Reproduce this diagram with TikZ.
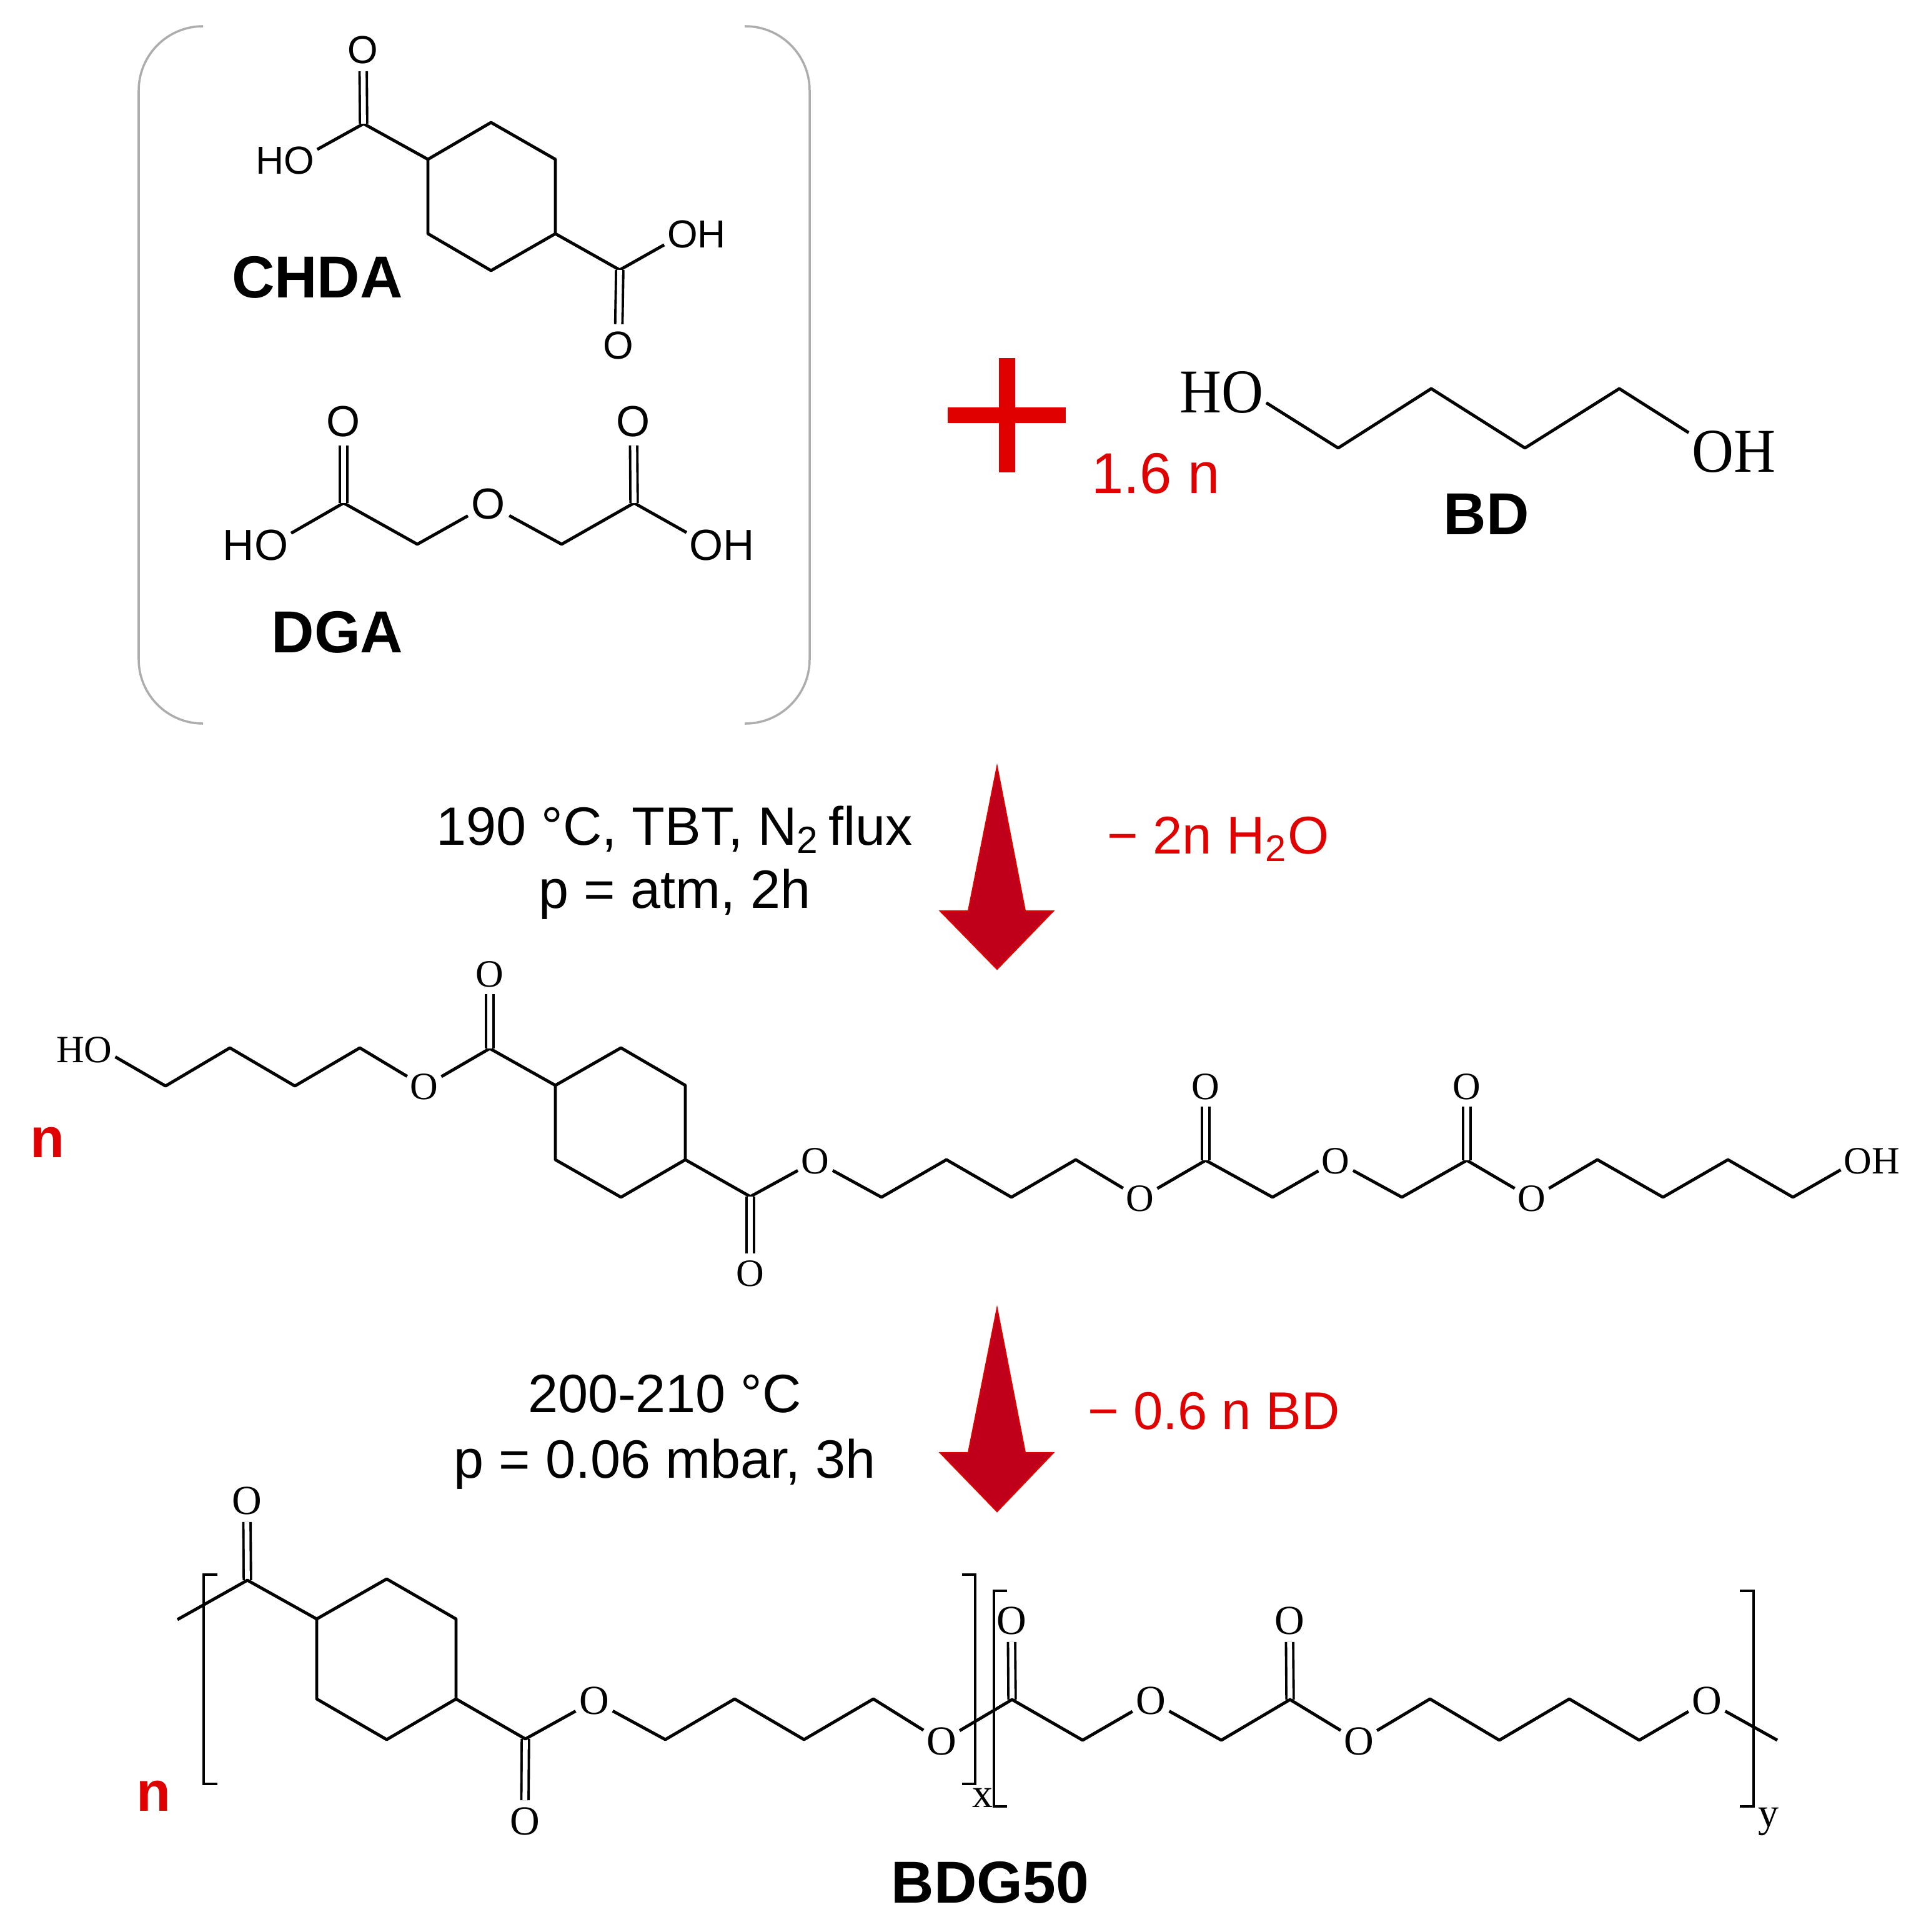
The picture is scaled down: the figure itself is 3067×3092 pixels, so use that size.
\documentclass[tikz,border=0pt]{standalone}
\usepackage{fontspec}
\setmainfont{Liberation Sans}
\newfontfamily\chemserif{Liberation Serif}
\newfontfamily\chemnarrow[FakeStretch=0.93]{Liberation Serif}

\begin{document}
\begin{tikzpicture}[x=0.005cm,y=-0.005cm,
        bond/.style={line width=0.7pt},
        dbond/.style={line width=0.55pt,double,double distance=1.1pt},
        atomtop/.style={circle,inner sep=0pt,minimum size=0.30cm,font=\fontsize{8.9}{10}\selectfont},
        atomdga/.style={circle,inner sep=0pt,minimum size=0.31cm,font=\fontsize{9.9}{11}\selectfont},
        atommid/.style={circle,inner sep=0pt,minimum size=0.27cm,font=\chemserif\fontsize{8.8}{10}\selectfont},
        atomlow/.style={circle,inner sep=0pt,minimum size=0.30cm,font=\chemserif\fontsize{9.4}{11}\selectfont},
        hydroxtop/.style={inner sep=0.5pt,font=\fontsize{8.9}{10}\selectfont},
        hydroxdga/.style={inner sep=0.5pt,font=\fontsize{9.9}{11}\selectfont},
        hydroxbd/.style={inner sep=0.5pt,font=\chemnarrow\fontsize{14.2}{15}\selectfont},
        hydroxmid/.style={inner sep=0.5pt,font=\chemserif\fontsize{8.8}{10}\selectfont},
        molname/.style={font=\bfseries\fontsize{13.5}{15}\selectfont},
        repeats/.style={text=redmark,font=\bfseries\fontsize{12.8}{15}\selectfont},
        redtext/.style={text=redmark,anchor=base},
        condition/.style={align=center,font=\fontsize{12.3}{14.4}\selectfont},
        subscr/.style={inner sep=0pt,font=\chemserif\fontsize{9.4}{11}\selectfont},
        bracket/.style={line width=0.55pt},
        fatarrow/.style={draw=redmark,fill=darkred,line width=0.3pt,line join=miter}]
    \definecolor{redmark}{HTML}{E00000}
    \definecolor{darkred}{HTML}{C0001A}
    \definecolor{boxgray}{HTML}{ADADAD}
    \useasboundingbox (0,0) rectangle (3067,3092);

    % reactants
    \draw[boxgray,line width=0.5pt,rounded corners=0.515cm] (325,42) -- (222,42) -- (222,1158) -- (325,1158);
    \draw[boxgray,line width=0.5pt,rounded corners=0.515cm] (1192,42) -- (1296,42) -- (1296,1158) -- (1192,1158);

    \foreach \name/\px/\py in {ca/582/198,cb/685/255,cc/786/196,cd/889/255,ce/889/374,cf/786/433,cg/685/374,ch/992/432}
        \coordinate (\name) at (\px,\py);
    \node[atomtop] (chdaOa) at (581,80) {O};
    \node[atomtop] (chdaOb) at (990,553) {O};
    \node[hydroxtop] (chdaHO) at (456,257) {HO};
    \node[hydroxtop] (chdaOH) at (1115,375) {OH};
    \draw[bond,line join=round] (chdaHO.19) -- (ca) -- (cb) -- (cc) -- (cd) -- (ce) -- (cf) -- (cg) -- (cb);
    \draw[bond,line join=round] (ce) -- (ch) -- (chdaOH.198);
    \draw[dbond] (ca) -- (chdaOa);
    \draw[dbond] (ch) -- (chdaOb);
    \node[molname] (chda) at (508,444) {CHDA};

    \foreach \name/\px/\py in {da/550/805,db/668/871,dc/899/871,dd/1015/805}
        \coordinate (\name) at (\px,\py);
    \node[atomdga] (dgaOa) at (550,675) {O};
    \node[atomdga] (dgaOb) at (1014,675) {O};
    \node[atomdga] (dgaOc) at (782,807) {O};
    \node[hydroxdga] (dgaHO) at (409,873) {HO};
    \node[hydroxdga] (dgaOH) at (1156,873) {OH};
    \draw[bond,line join=round] (dgaHO.19) -- (da) -- (db) -- (dgaOc) -- (dc) -- (dd) -- (dgaOH.160);
    \draw[dbond] (da) -- (dgaOa);
    \draw[dbond] (dd) -- (dgaOb);
    \node[molname] (dga) at (540,1012) {DGA};

    \fill[redmark] (1517,652) rectangle (1706,677);
    \fill[redmark] (1599,573) rectangle (1625,756);
    \node[redtext,font=\fontsize{13.1}{15}\selectfont] (ratio) at (1850,789) {1.6 n};

    \foreach \name/\px/\py in {ba/2142/717,bb/2291/622,bc/2441/717,bd/2592/622}
        \coordinate (\name) at (\px,\py);
    \node[hydroxbd] (bdHO) at (1955,628) {HO};
    \node[hydroxbd] (bdOH) at (2775,723) {OH};
    \draw[bond,line join=round] (bdHO.-13) -- (ba) -- (bb) -- (bc) -- (bd) -- (bdOH.157);
    \node[molname] (bdname) at (2379,823) {BD};

    % first step
    \draw[fatarrow] (1596,1227) -- (1641,1458) -- (1686,1458) -- (1596,1551) -- (1505,1458) -- (1550,1458) -- cycle;
    \node[condition] (condA) at (1080,1381) {190 °C, TBT, N\textsubscript{2}\kern-0.12em\ flux\\p = atm, 2h};
    \node[redtext,font=\fontsize{12.1}{15}\selectfont] (lossA) at (1950,1366) {− 2n H\textsubscript{2}O};
    \node[repeats] (nA) at (76,1828) {n};

    % oligomer
    \foreach \name/\px/\py in {ma/265/1738,mb/368/1677,mc/472/1738,md/576/1677,me/784/1678,
            mf/889/1737,mg/994/1677,mh/1097/1737,mi/1097/1856,mj/994/1916,mk/889/1856,ml/1201/1915,
            mm/1411/1916,mn/1515/1856,mo/1619/1916,mp/1722/1856,mq/1930/1857,mr/2037/1916,
            ms/2244/1916,mt/2348/1857,mu/2557/1856,mv/2662/1916,mw/2766/1856,mx/2870/1916}
        \coordinate (\name) at (\px,\py);
    \node[hydroxmid] (midHO) at (135,1680) {HO};
    \node[hydroxmid] (midOH) at (2996,1858) {OH};
    \node[atommid] (midOa) at (784,1559) {O};
    \node[atommid] (midOb) at (679,1739) {O};
    \node[atommid] (midOc) at (1201,2038) {O};
    \node[atommid] (midOd) at (1305,1858) {O};
    \node[atommid] (midOe) at (1825,1918) {O};
    \node[atommid] (midOf) at (1930,1739) {O};
    \node[atommid] (midOg) at (2138,1858) {O};
    \node[atommid] (midOh) at (2348,1739) {O};
    \node[atommid] (midOi) at (2452,1918) {O};
    \draw[bond,line join=round] (midHO.-13) -- (ma) -- (mb) -- (mc) -- (md) -- (midOb) -- (me) -- (mf) -- (mg) -- (mh) -- (mi) -- (mj) -- (mk) -- (mf);
    \draw[bond,line join=round] (mi) -- (ml) -- (midOd) -- (mm) -- (mn) -- (mo) -- (mp) -- (midOe) -- (mq) -- (mr) -- (midOg) -- (ms) -- (mt) -- (midOi) -- (mu) -- (mv) -- (mw) -- (mx) -- (midOH.196);
    \draw[dbond] (me) -- (midOa);
    \draw[dbond] (ml) -- (midOc);
    \draw[dbond] (mq) -- (midOf);
    \draw[dbond] (mt) -- (midOh);

    % second step
    \draw[fatarrow] (1596,2094) -- (1641,2325) -- (1686,2325) -- (1596,2419) -- (1505,2325) -- (1550,2325) -- cycle;
    \node[condition,font=\fontsize{12.3}{15}\selectfont] (condB) at (1064,2292) {200-210 °C\\p = 0.06 mbar, 3h};
    \node[redtext,font=\fontsize{12.1}{15}\selectfont] (lossB) at (1943,2287) {− 0.6 n BD};
    \node[repeats] (nB) at (246,2874) {n};

    % polymer
    \foreach \name/\px/\py in {pstart/284/2592,pa/396/2529,pb/507/2591,pc/619/2527,pd/730/2591,pe/730/2719,pf/619/2784,pg/507/2719,
            ph/841/2783,pi/1065/2784,pj/1176/2719,pk/1287/2784,pl/1398/2719,pm/1620/2720,pn/1733/2785,po/1955/2785,
            pq/2065/2720,pr/2289/2719,ps/2400/2785,pt/2512/2719,pu/2624/2785,pend/2845/2785}
        \coordinate (\name) at (\px,\py);
    \node[atomlow] (polOa) at (395,2402) {O};
    \node[atomlow] (polOb) at (840,2915) {O};
    \node[atomlow] (polOc) at (951,2722) {O};
    \node[atomlow] (polOd) at (1507,2787) {O};
    \node[atomlow] (polOe) at (1619,2594) {O};
    \node[atomlow] (polOf) at (1842,2722) {O};
    \node[atomlow] (polOg) at (2064,2594) {O};
    \node[atomlow] (polOh) at (2175,2787) {O};
    \node[atomlow] (polOi) at (2732,2722) {O};
    \draw[dbond] (pa) -- (polOa);
    \draw[dbond] (ph) -- (polOb);
    \draw[dbond] (pm) -- (polOe);
    \draw[dbond] (pq) -- (polOg);
    \draw[bond,line join=round] (pstart) -- (pa) -- (pb) -- (pc) -- (pd) -- (pe) -- (pf) -- (pg) -- (pb);
    \draw[bond,line join=round] (pe) -- (ph) -- (polOc) -- (pi) -- (pj) -- (pk) -- (pl) -- (polOd) -- (pm) -- (pn) -- (polOf) -- (po) -- (pq) -- (polOh) -- (pr) -- (ps) -- (pt) -- (pu) -- (polOi) -- (pend);
    \draw[bracket] (348,2520) -- (326,2520) -- (326,2855) -- (348,2855);
    \draw[bracket] (1540,2520) -- (1561,2520) -- (1561,2855) -- (1540,2855);
    \draw[bracket] (1612,2546) -- (1591,2546) -- (1591,2891) -- (1612,2891);
    \draw[bracket] (2785,2546) -- (2807,2546) -- (2807,2891) -- (2785,2891);
    \node[subscr] (subx) at (1573,2877) {x};
    \node[subscr] (suby) at (2831,2915) {y};
    \node[molname] (bdg) at (1585,3013) {BDG50};
\end{tikzpicture}
\end{document}
